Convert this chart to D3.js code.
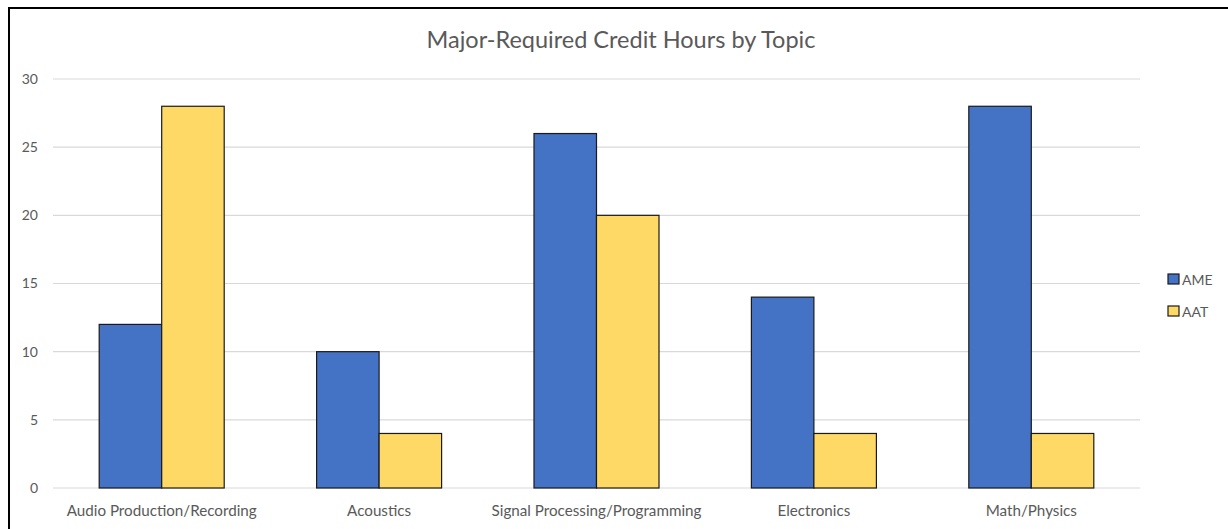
<!DOCTYPE html>
<html>
<head>
<meta charset="utf-8">
<script src="https://cdn.jsdelivr.net/npm/d3@7"></script>
<style>
  html, body { margin: 0; padding: 0; background: #fff; }
  svg { display: block; font-family: Lato, "Open Sans", sans-serif; }
</style>
</head>
<body>
<svg id="chart" width="1228" height="529"></svg>
<script>
const topics = ['Audio Production/Recording', 'Acoustics', 'Signal Processing/Programming', 'Electronics', 'Math/Physics'];
const series = ['AME', 'AAT'];
const ameValues = [12, 10, 26, 14, 28];
const aatValues = [28, 4, 20, 4, 4];
const yTicks = [0, 5, 10, 15, 20, 25, 30];
const colors = ['#4472C4', '#FFD966'];

const svg = d3.select('#chart');
const margin = {top: 79, right: 88, bottom: 41, left: 53};
const width = 1228 - margin.left - margin.right,
      height = 529 - margin.top - margin.bottom;

// outer frame
svg.append('rect')
    .attr('x', 9).attr('y', 8)
    .attr('width', 1240).attr('height', 540)
    .attr('fill', 'none')
    .attr('stroke', '#000')
    .attr('stroke-width', 2);

svg.append('text')
    .attr('x', 621).attr('y', 48)
    .attr('text-anchor', 'middle')
    .attr('fill', '#595959')
    .style('font-size', '23.5px')
    .text('Major-Required Credit Hours by Topic');

const g = svg.append('g')
    .attr('transform', `translate(${margin.left},${margin.top})`);

const x = d3.scaleBand()
    .domain(topics)
    .range([0, width])
    .paddingInner(0)
    .paddingOuter(0);

const groupWidth = x.bandwidth() * 0.575;
const xSub = d3.scaleBand()
    .domain(series)
    .range([(x.bandwidth() - groupWidth) / 2, (x.bandwidth() + groupWidth) / 2]);

const y = d3.scaleLinear()
    .domain([0, 30])
    .range([height, 0]);

// gridlines
g.append('g')
    .selectAll('line')
    .data(yTicks)
    .join('line')
    .attr('x1', 0).attr('x2', width)
    .attr('y1', d => y(d)).attr('y2', d => y(d))
    .attr('stroke', '#d9d9d9')
    .attr('stroke-width', 1.2);

// y axis labels
const yAxis = g.append('g')
    .call(d3.axisLeft(y).tickValues(yTicks).tickSize(0).tickPadding(15));
yAxis.select('.domain').remove();
yAxis.selectAll('text')
    .attr('fill', '#595959')
    .style('font-size', '14px')
    .style('font-family', 'Lato, sans-serif');

// x axis labels
const xAxis = g.append('g')
    .attr('transform', `translate(0,${height})`)
    .call(d3.axisBottom(x).tickSize(0).tickPadding(17));
xAxis.select('.domain').remove();
xAxis.selectAll('text')
    .attr('fill', '#595959')
    .style('font-size', '15.2px')
    .style('font-family', 'Lato, sans-serif');

const tableData = topics.map((t, i) => ({topic: t, values: [ameValues[i], aatValues[i]]}));

g.append('g')
    .selectAll('g')
    .data(tableData)
    .join('g')
    .attr('transform', d => `translate(${x(d.topic)},0)`)
    .selectAll('rect')
    .data(d => d.values.map((v, j) => ({key: series[j], value: v, color: colors[j]})))
    .join('rect')
    .attr('x', d => xSub(d.key))
    .attr('y', d => y(d.value))
    .attr('width', xSub.bandwidth())
    .attr('height', d => height - y(d.value))
    .attr('fill', d => d.color)
    .attr('stroke', '#1a1a1a')
    .attr('stroke-width', 1.2);

// legend
const legend = svg.append('g')
    .attr('transform', 'translate(1168,274)');
const item = legend.selectAll('g')
    .data(series)
    .join('g')
    .attr('transform', (d, i) => `translate(0,${i * 32})`);
item.append('rect')
    .attr('width', 11).attr('height', 10)
    .attr('fill', (d, i) => colors[i])
    .attr('stroke', '#1a1a1a')
    .attr('stroke-width', 1.2);
item.append('text')
    .attr('x', 14).attr('y', 11)
    .attr('fill', '#595959')
    .style('font-size', '14px')
    .text(d => d);
</script>
</body>
</html>
